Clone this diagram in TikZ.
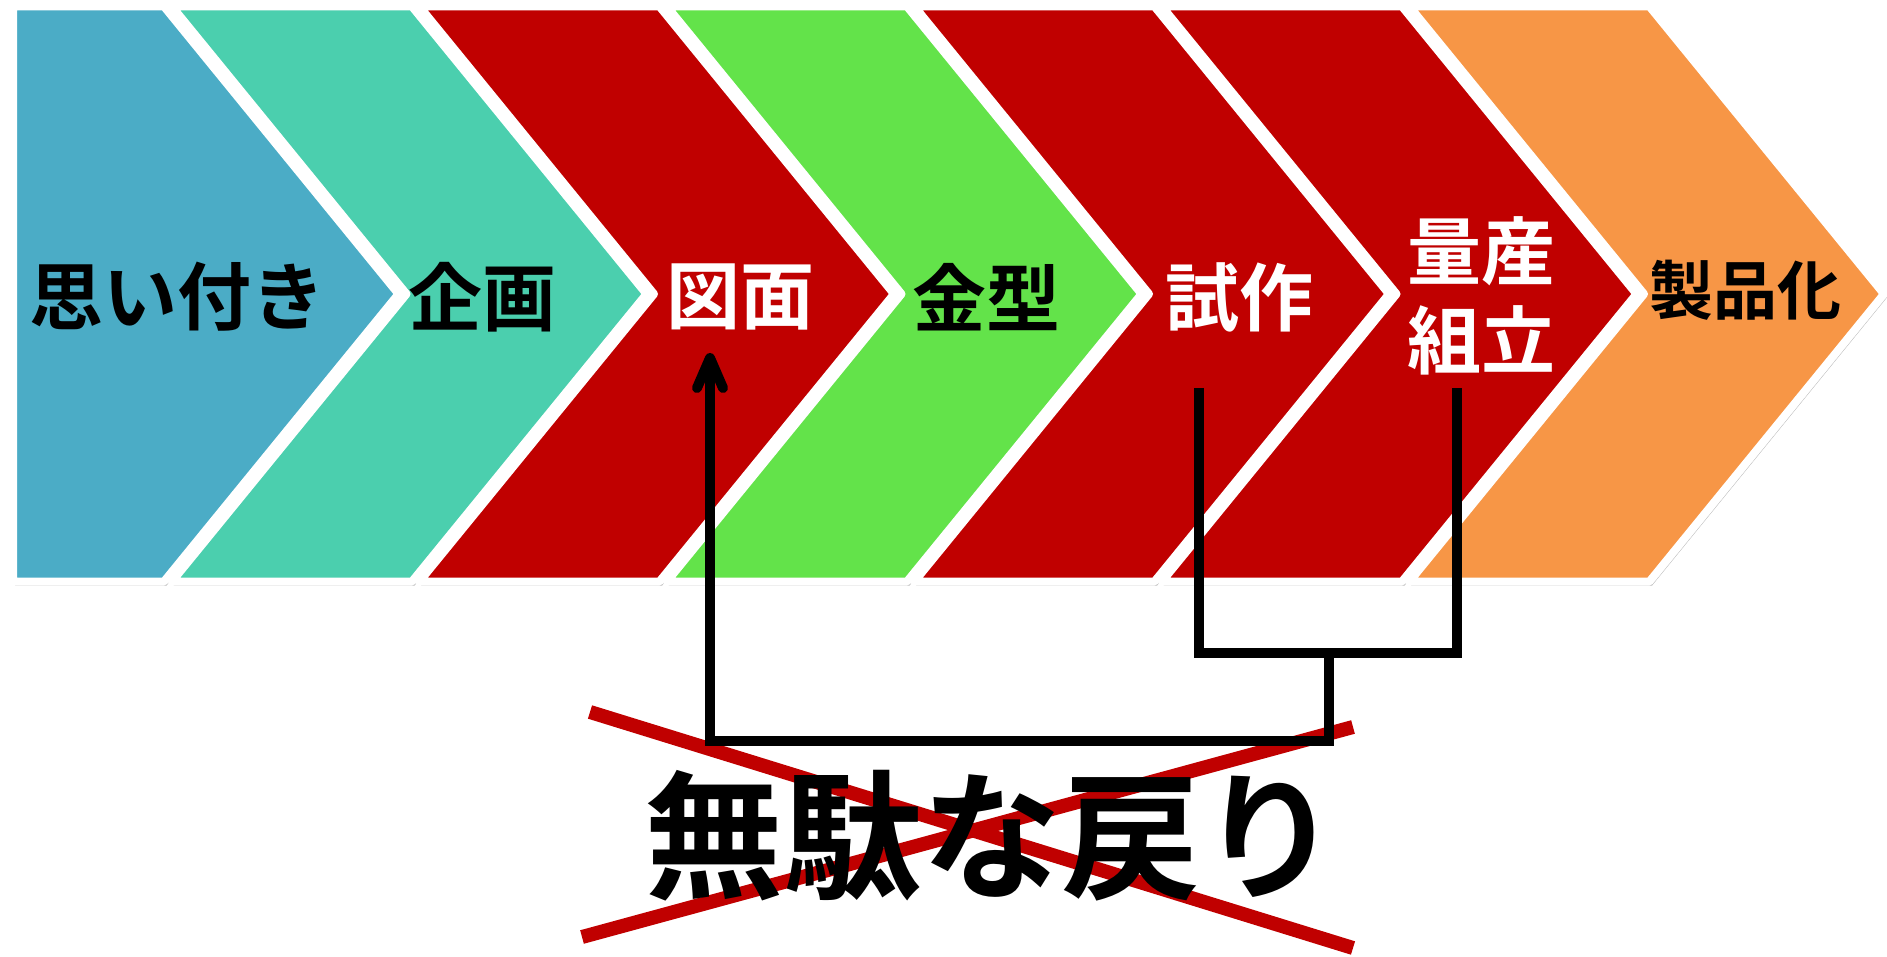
\documentclass[tikz,border=0pt]{standalone}
\usepackage{fontspec}
\newfontfamily\jp{Noto Sans CJK JP Bold}
\usetikzlibrary{arrows.meta}
\definecolor{chevAqua}{RGB}{75,172,198}
\definecolor{chevTeal}{RGB}{75,207,174}
\definecolor{chevRed}{RGB}{192,0,0}
\definecolor{chevGreen}{RGB}{99,227,74}
\definecolor{chevOrange}{RGB}{247,150,70}
\begin{document}
\begin{tikzpicture}[x=0.5pt,y=0.5pt,yscale=-1,xscale=1,
	chev/.style={draw=white, line width=4pt, line join=round,
		preaction={draw=black!25, fill=black!25, transform canvas={xshift=1.2pt,yshift=-1.8pt}}},
	stagelbl/.style={inner sep=0pt, align=center, font={\jp\fontsize{37pt}{44.5pt}\selectfont}},
	link/.style={draw=black, line width=5pt},
	crossline/.style={draw=chevRed, line width=7pt}]
	\useasboundingbox (0,0) rectangle (1887,957);
	%Shape: Pentagon 
	\draw [chev, fill=chevAqua] (13,6.5) -- (164,6.5) -- (398.5,294) -- (164,581.5) -- (13,581.5) -- cycle ;
	%Shape: Chevron 
	\draw [chev, fill=chevTeal] (172,6.5) -- (412,6.5) -- (646.5,294) -- (412,581.5) -- (172,581.5) -- (406.5,294) -- cycle ;
	%Shape: Chevron 
	\draw [chev, fill=chevRed] (419.5,6.5) -- (659.5,6.5) -- (894,294) -- (659.5,581.5) -- (419.5,581.5) -- (654,294) -- cycle ;
	%Shape: Chevron 
	\draw [chev, fill=chevGreen] (667,6.5) -- (907,6.5) -- (1141.5,294) -- (907,581.5) -- (667,581.5) -- (901.5,294) -- cycle ;
	%Shape: Chevron 
	\draw [chev, fill=chevRed] (914.5,6.5) -- (1154.5,6.5) -- (1389,294) -- (1154.5,581.5) -- (914.5,581.5) -- (1149,294) -- cycle ;
	%Shape: Chevron 
	\draw [chev, fill=chevRed] (1162,6.5) -- (1402,6.5) -- (1636.5,294) -- (1402,581.5) -- (1162,581.5) -- (1396.5,294) -- cycle ;
	%Shape: Chevron 
	\draw [chev, fill=chevOrange] (1409.5,6.5) -- (1649.5,6.5) -- (1884,294) -- (1649.5,581.5) -- (1409.5,581.5) -- (1644,294) -- cycle ;

	%Stage labels
	\node [stagelbl, text=black] (idea) at (178,297) {思い付き};
	\node [stagelbl, text=black] (plan) at (482,297) {企画};
	\node [stagelbl, text=white] (drawing) at (740,297) {図面};
	\node [stagelbl, text=black] (mold) at (986,297) {金型};
	\node [stagelbl, text=white] (proto) at (1239,297) {試作};
	\node [stagelbl, text=white] (mass) at (1481,296) {量産\\組立};
	\node [stagelbl, text=black, font={\jp\fontsize{32pt}{38pt}\selectfont}] (product) at (1745,290) {製品化};

	%Straight Lines (cross)
	\draw [crossline] (590,712) -- (1353,948) ;
	\draw [crossline] (582,937) -- (1353,727) ;
	\node [inner sep=0pt, font={\jp\fontsize{69.5pt}{80pt}\selectfont}] (waste) at (992,836) {無駄な戻り};

	%Return path
	\coordinate (proto-foot) at (1199,388);
	\coordinate (mass-foot) at (1456.5,388);
	\coordinate (join) at (1328.5,652.5);
	\coordinate (turn) at (1328.5,740.5);
	\coordinate (drawing-foot) at (710,353);
	\draw [link] (proto-foot) -- (proto-foot |- join) -- (mass-foot |- join) -- (mass-foot) ;
	\draw [link, -{Straight Barb[length=15pt,width=13pt,round]}] (join) -- (turn) -- (turn -| drawing-foot) -- (drawing-foot) ;
\end{tikzpicture}
\end{document}
